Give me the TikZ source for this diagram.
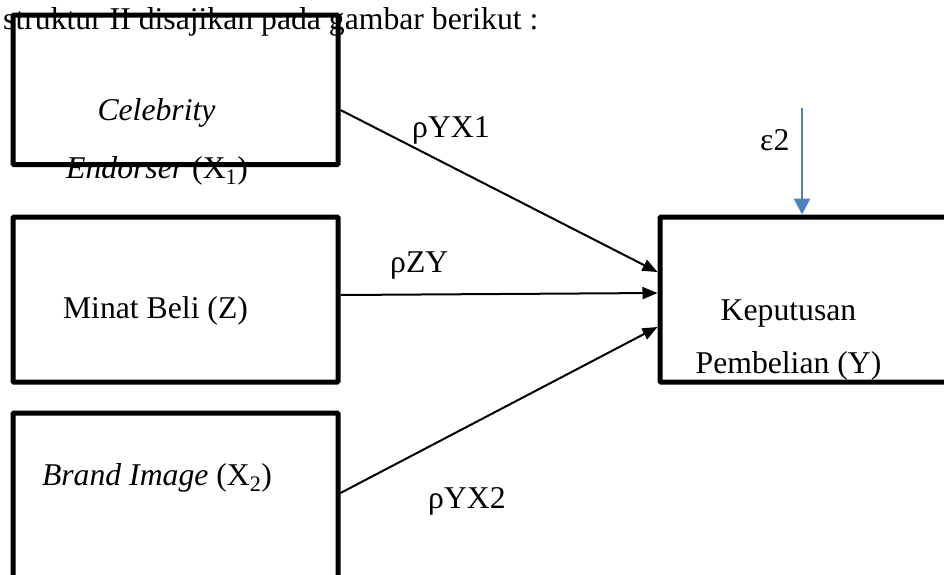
\documentclass[tikz,border=0pt]{standalone}
\usepackage{fontspec}
\setmainfont{Liberation Serif}
\usetikzlibrary{arrows.meta,calc}
\definecolor{errblue}{HTML}{4F81BD}
\tikzset{
  varbox/.style={draw=black, line width=5pt, rounded corners=1pt, inner sep=0pt},
  lbl/.style={inner sep=0pt, font=\fontsize{31.7}{38}\selectfont},
  path/.style={draw=black, line width=2pt, -{Triangle[length=15pt,width=12pt]}},
  errpath/.style={draw=errblue, line width=2.8pt, -{Triangle[length=16pt,width=16pt]}}
}
\begin{document}
\begin{tikzpicture}[x=1pt,y=-1pt]
\useasboundingbox (0,0) rectangle (944,574);
\begin{scope}
\clip (0,0) rectangle (944,574);

% caption line of the surrounding text
\node[lbl, anchor=base west] (cap) at (3,29.5) {struktur II disajikan pada gambar berikut :};

% variable boxes
\node[varbox, minimum width=325pt, minimum height=149.5pt] (b1) at (175.5,89.75) {};
\node[varbox, minimum width=325pt, minimum height=165pt] (b2) at (175.5,299.5) {};
\node[varbox, minimum width=325pt, minimum height=287pt] (b3) at (175.5,556.5) {};
\node[varbox, minimum width=340pt, minimum height=165pt] (bY) at (830,299.5) {};

% box texts
\node[lbl, anchor=base] (t1a) at (156.5,120) {\textit{Celebrity}};
\node[lbl, anchor=base] (t1b) at (157,178) {\textit{Endorser} (X\textsubscript{1})};
\node[lbl, anchor=base] (t2) at (155.5,318) {Minat Beli (Z)};
\node[lbl, anchor=base] (t3) at (157,485) {\textit{Brand Image} (X\textsubscript{2})};
\node[lbl, anchor=base] (tYa) at (788.5,320) {Keputusan};
\node[lbl, anchor=base] (tYb) at (788.5,373) {Pembelian (Y)};

% path coefficients
\path[path] ($(b1.east)+(0,20.25)$) -- ($(bY.west)+(0,-27.5)$);
\path[path] ($(b2.east)+(0,-4.5)$) -- ($(bY.west)+(0,-6.5)$);
\path[path] ($(b3.east)+(0,-63.5)$) -- ($(bY.west)+(0,27.5)$);

\node[lbl, anchor=base west] (p1) at (412,137) {ρYX1};
\node[lbl, anchor=base west] (p2) at (390,272) {ρZY};
\node[lbl, anchor=base west] (p3) at (428,508) {ρYX2};

% residual term
\coordinate (e2) at (802,108);
\path[errpath] (e2) -- ($(bY.north)+(-28,0)$);
\node[lbl, anchor=base west] (eps) at (760,150) {ε2};
\end{scope}
\end{tikzpicture}
\end{document}
